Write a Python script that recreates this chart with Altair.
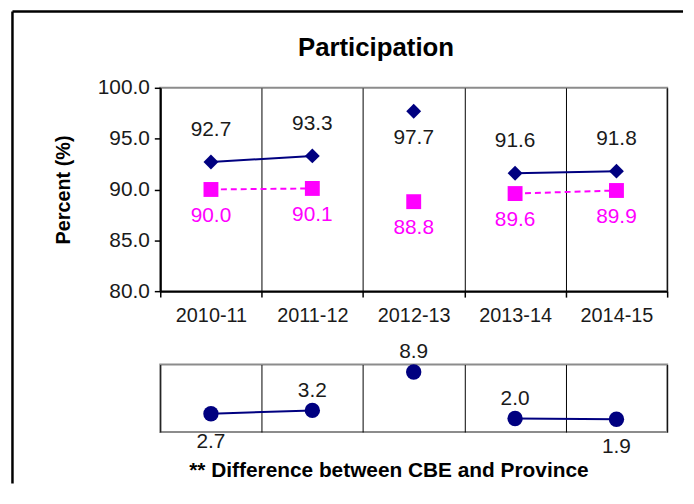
import altair as alt
import pandas as pd

# ---- data ----
years = ["2010-11", "2011-12", "2012-13", "2013-14", "2014-15"]
cbe = [92.7, 93.3, 97.7, 91.6, 91.8]
province = [90.0, 90.1, 88.8, 89.6, 89.9]
difference = [2.7, 3.2, 8.9, 2.0, 1.9]
# line segments (2012-13 is not joined to its neighbours)
segment = ["a", "a", "b", "c", "c"]
# label placement (style)
cbe_label_side = ["above", "above", "below", "above", "above"]
prov_label_side = ["below", "below", "below", "below", "below"]
diff_label_side = ["below", "above", "above", "above", "below"]

NAVY = "#000080"
MAGENTA = "#FF00FF"
FONT = "Liberation Sans"
TXT = "#1a1a1a"

rows = []
for i, yr in enumerate(years):
    rows.append({"year": yr, "series": "CBE", "value": cbe[i], "seg": segment[i], "side": cbe_label_side[i]})
    rows.append({"year": yr, "series": "Province", "value": province[i], "seg": segment[i], "side": prov_label_side[i]})
top_df = pd.DataFrame(rows)
bot_df = pd.DataFrame({"year": years, "diff": difference, "seg": segment, "side": diff_label_side})

x_top = alt.X(
    "year:N", sort=years,
    scale=alt.Scale(paddingInner=0, paddingOuter=0),
    axis=alt.Axis(title=None, labelAngle=0, labelFontSize=20, labelColor=TXT,
                  tickBand="extent", grid=True, gridColor="#000000", gridWidth=1,
                  tickSize=6, tickColor="#000000", tickWidth=1.5,
                  domainColor="#000000", domainWidth=2, labelPadding=9),
)
y_top = alt.Y(
    "value:Q",
    scale=alt.Scale(domain=[80, 100], nice=False, zero=False),
    axis=alt.Axis(values=[80, 85, 90, 95, 100], format=".1f", title="Percent (%)",
                  titleFontSize=20, titleFontWeight="bold", titleColor="#000000",
                  titlePadding=24, labelFontSize=21, labelColor=TXT, grid=False,
                  tickSize=6, tickColor="#000000", tickWidth=1.5,
                  domainColor="#000000", domainWidth=2, labelPadding=5),
)

base = alt.Chart(top_df).encode(x=x_top, y=y_top)
is_cbe = alt.datum.series == "CBE"
is_prov = alt.datum.series == "Province"

cbe_line = base.transform_filter(is_cbe).mark_line(color=NAVY, strokeWidth=2).encode(detail="seg:N")
prov_line = base.transform_filter(is_prov).mark_line(color=MAGENTA, strokeWidth=2, strokeDash=[6, 4]).encode(detail="seg:N")
cbe_pts = base.transform_filter(is_cbe).mark_point(shape="diamond", filled=True, size=225, color=NAVY, opacity=1)
prov_pts = base.transform_filter(is_prov).mark_point(shape="square", filled=True, size=225, color=MAGENTA, opacity=1)
cbe_txt_up = base.transform_filter(is_cbe & (alt.datum.side == "above")).mark_text(
    dy=-32, fontSize=21, color=TXT, baseline="middle").encode(text=alt.Text("value:Q", format=".1f"))
cbe_txt_dn = base.transform_filter(is_cbe & (alt.datum.side == "below")).mark_text(
    dy=27, fontSize=21, color=TXT, baseline="middle").encode(text=alt.Text("value:Q", format=".1f"))
prov_txt = base.transform_filter(is_prov).mark_text(
    dy=27, fontSize=21, color=MAGENTA, baseline="middle").encode(text=alt.Text("value:Q", format=".1f"))

top = alt.layer(cbe_line, prov_line, cbe_pts, prov_pts, cbe_txt_up, cbe_txt_dn, prov_txt).properties(
    width=511, height=205,
    title=alt.TitleParams("Participation", fontSize=26, fontWeight="bold", color="#000000",
                          anchor="middle", dx=-38, offset=16),
)

x_bot = alt.X(
    "year:N", sort=years,
    scale=alt.Scale(paddingInner=0, paddingOuter=0),
    axis=alt.Axis(title="** Difference  between CBE and Province", titleFontSize=21,
                  titleFontWeight="bold", titleColor="#000000", titleX=230, titlePadding=28,
                  labels=False, ticks=False, domain=False, tickBand="extent",
                  grid=True, gridColor="#000000", gridWidth=1),
)
y_bot = alt.Y("diff:Q", scale=alt.Scale(domain=[0, 10], nice=False), axis=None)

bbase = alt.Chart(bot_df).encode(x=x_bot, y=y_bot)
diff_line = bbase.mark_line(color=NAVY, strokeWidth=2).encode(detail="seg:N")
diff_pts = bbase.mark_point(shape="circle", filled=True, size=240, color=NAVY, opacity=1)
diff_up = bbase.transform_filter(alt.datum.side == "above").mark_text(
    dy=-20, fontSize=21, color=TXT, baseline="middle").encode(text=alt.Text("diff:Q", format=".1f"))
diff_dn = bbase.transform_filter(alt.datum.side == "below").mark_text(
    dy=28, fontSize=21, color=TXT, baseline="middle").encode(text=alt.Text("diff:Q", format=".1f"))

# outer frame (left and top edges of the picture border)
frame_df = pd.DataFrame({"k": [0]})
frame_top = alt.Chart(frame_df).mark_rule(color="#000000", strokeWidth=2.5).encode(
    x=alt.value(-149), x2=alt.value(527), y=alt.value(-356))
frame_left = alt.Chart(frame_df).mark_rule(color="#000000", strokeWidth=2.5).encode(
    x=alt.value(-149), y=alt.value(-356), y2=alt.value(120))

bottom = alt.layer(diff_line, diff_pts, diff_up, diff_dn, frame_top, frame_left).properties(
    width=511, height=68)

chart = alt.vconcat(top, bottom, spacing=74, bounds="flush").properties(
    padding={"left": 1.5, "top": -1.5, "right": 0, "bottom": 0}
).configure(font=FONT).configure_view(stroke="#8c8c8c", strokeWidth=2)

chart.save("out.html", embed_options={"renderer": "svg", "actions": False})
